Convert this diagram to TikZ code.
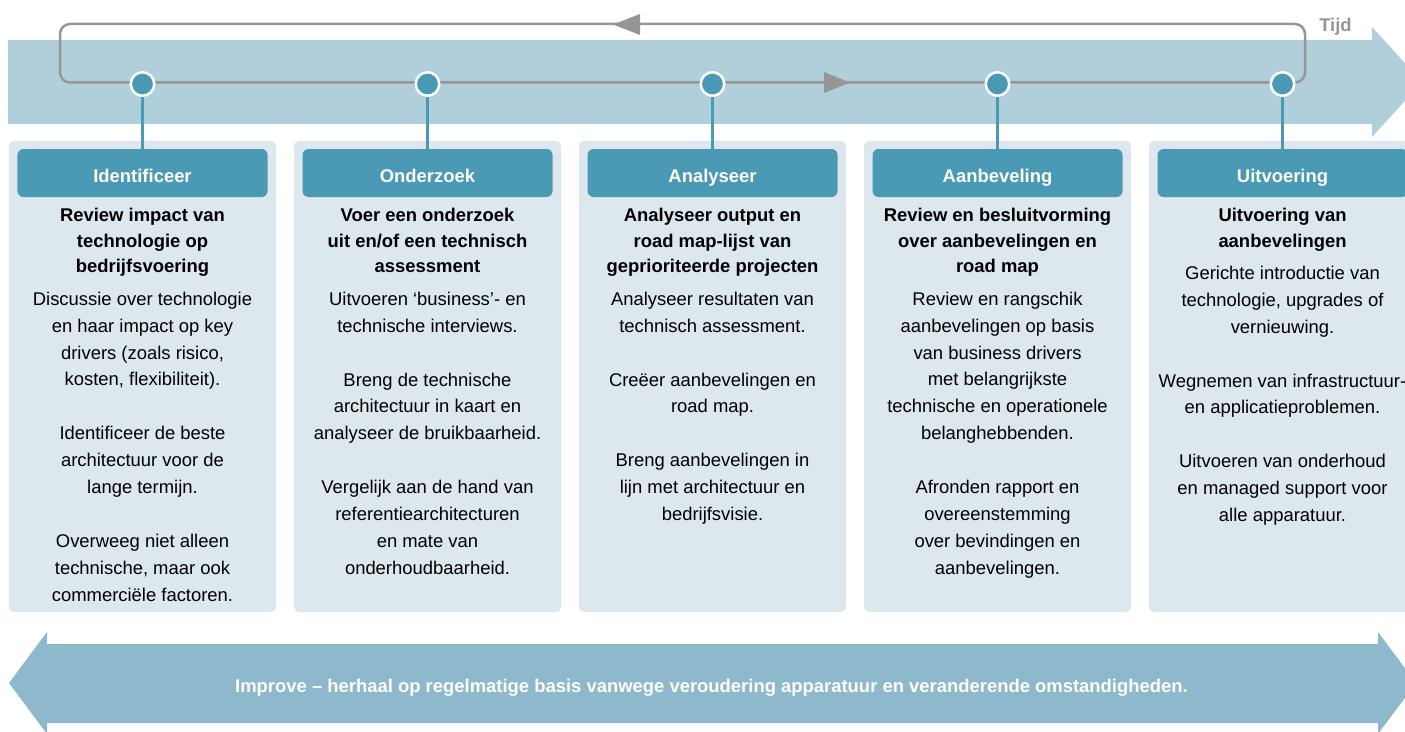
\documentclass[tikz,border=0pt]{standalone}
\usepackage{fontspec}
\setmainfont{Liberation Sans}
\usetikzlibrary{positioning}

\definecolor{bandblue}{RGB}{177,206,219}
\definecolor{loopgray}{RGB}{150,150,150}
\definecolor{stepteal}{RGB}{74,154,181}
\definecolor{panelbg}{RGB}{221,231,238}
\definecolor{improveblue}{RGB}{142,185,204}

\tikzset{
  panel/.style={fill=panelbg, rounded corners=5bp, minimum width=267bp,
    minimum height=471bp, inner sep=0},
  header/.style={fill=stepteal, rounded corners=6bp, minimum width=250bp,
    minimum height=48bp, inner sep=0, text=white,
    font=\fontsize{18.5}{22}\selectfont\bfseries,
    text height=18bp, text depth=0bp},
  stepdot/.style={circle, fill=stepteal, draw=white, line width=2.5bp,
    minimum size=23.5bp, inner sep=0},
  steplink/.style={stepteal, line width=2.2bp},
  paneltitle/.style={align=center, inner sep=0,
    font=\fontsize{18.5}{26}\selectfont\bfseries},
  panelbody/.style={align=center, inner sep=0,
    font=\fontsize{18.5}{27}\selectfont},
}

\begin{document}
\begin{tikzpicture}[x=1bp,y=-1bp]
  \useasboundingbox (0,0) rectangle (1405,731);

  % tijd-balk
  \fill[bandblue] (8,40) -- (1372,40) -- (1372,27) -- (1422,82)
    -- (1372,137) -- (1372,124) -- (8,124) -- cycle;
  \draw[loopgray, line width=2.5bp, rounded corners=10bp]
    (60,24) rectangle (1305,82.5);
  \fill[loopgray] (613,24.5) -- (640,14) -- (640,35) -- cycle;
  \fill[loopgray] (850,82.5) -- (824,72) -- (824,93) -- cycle;
  \node[anchor=base, text=loopgray, font=\fontsize{18.5}{22}\selectfont\bfseries]
    (tijd) at (1335.5,31.6) {Tijd};

  % kolommen
  \node[panel] (p1) at (142.5,376.5) {};
  \node[panel] (p2) at (427.5,376.5) {};
  \node[panel] (p3) at (712.5,376.5) {};
  \node[panel] (p4) at (997.5,376.5) {};
  \node[panel] (p5) at (1282.5,376.5) {};

  \node[header] (h1) at (142.5,173) {Identificeer};
  \node[header] (h2) at (427.5,173) {Onderzoek};
  \node[header] (h3) at (712.5,173) {Analyseer};
  \node[header] (h4) at (997.5,173) {Aanbeveling};
  \node[header] (h5) at (1282.5,173) {Uitvoering};

  \node[stepdot] (s1) at (142.5,84) {};
  \node[stepdot] (s2) at (427.5,84) {};
  \node[stepdot] (s3) at (712.5,84) {};
  \node[stepdot] (s4) at (997.5,84) {};
  \node[stepdot] (s5) at (1282.5,84) {};

  \draw[steplink] (s1) -- (h1);
  \draw[steplink] (s2) -- (h2);
  \draw[steplink] (s3) -- (h3);
  \draw[steplink] (s4) -- (h4);
  \draw[steplink] (s5) -- (h5);

  % teksten
  \node[paneltitle, anchor=north] (t1) at (142.5,202.8)
    {\strut Review impact van\\technologie op\\bedrijfsvoering\strut};
  \node[panelbody, below=5.3bp of t1] (b1)
    {\strut Discussie over technologie\\en haar impact op key\\drivers (zoals risico,\\kosten, flexibiliteit).\\[27bp]
     Identificeer de beste\\architectuur voor de\\lange termijn.\\[27bp]
     Overweeg niet alleen\\technische, maar ook\\commerciële factoren.};

  \node[paneltitle, anchor=north] (t2) at (427.5,202.8)
    {\strut Voer een onderzoek\\uit en/of een technisch\\assessment\strut};
  \node[panelbody, below=5.3bp of t2] (b2)
    {\strut Uitvoeren ‘business’- en\\technische interviews.\\[27bp]
     Breng de technische\\architectuur in kaart en\\analyseer de bruikbaarheid.\\[27bp]
     Vergelijk aan de hand van\\referentiearchitecturen\\en mate van\\onderhoudbaarheid.};

  \node[paneltitle, anchor=north] (t3) at (712.5,202.8)
    {\strut Analyseer output en\\road map-lijst van\\geprioriteerde projecten\strut};
  \node[panelbody, below=5.3bp of t3] (b3)
    {\strut Analyseer resultaten van\\technisch assessment.\\[27bp]
     Creëer aanbevelingen en\\road map.\\[27bp]
     Breng aanbevelingen in\\lijn met architectuur en\\bedrijfsvisie.};

  \node[paneltitle, anchor=north] (t4) at (997.5,202.8)
    {\strut Review en besluitvorming\\over aanbevelingen en\\road map\strut};
  \node[panelbody, below=5.3bp of t4] (b4)
    {\strut Review en rangschik\\aanbevelingen op basis\\van business drivers\\met belangrijkste\\technische en operationele\\belanghebbenden.\\[27bp]
     Afronden rapport en\\overeenstemming\\over bevindingen en\\aanbevelingen.};

  \node[paneltitle, anchor=north] (t5) at (1282.5,202.8)
    {\strut Uitvoering van\\aanbevelingen\strut};
  \node[panelbody, below=5.3bp of t5] (b5)
    {\strut Gerichte introductie van\\technologie, upgrades of\\vernieuwing.\\[27bp]
     Wegnemen van infrastructuur-\\en applicatieproblemen.\\[27bp]
     Uitvoeren van onderhoud\\en managed support voor\\alle apparatuur.};

  % improve-pijl
  \fill[improveblue] (9,683) -- (47,632) -- (47,644) -- (1378,644) -- (1378,632)
    -- (1416,683) -- (1378,734) -- (1378,723) -- (47,723) -- (47,734) -- cycle;
  \node[anchor=base, text=white, font=\fontsize{18.5}{22}\selectfont\bfseries]
    (improve) at (711.5,692.6)
    {Improve – herhaal op regelmatige basis vanwege veroudering apparatuur en veranderende omstandigheden.};
\end{tikzpicture}
\end{document}
